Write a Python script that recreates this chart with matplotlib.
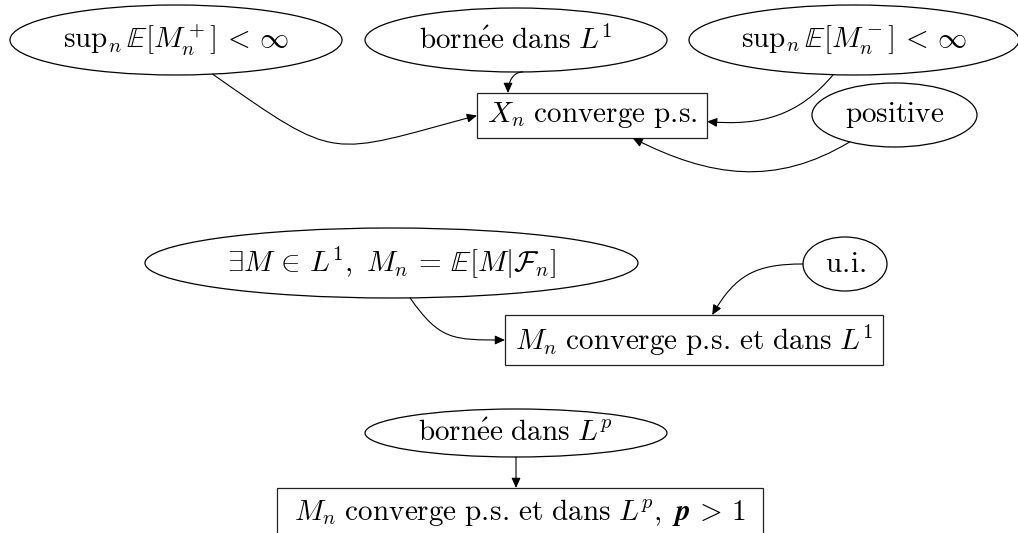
import numpy as np
import matplotlib.pyplot as plt
from matplotlib.patches import Ellipse, Rectangle, FancyArrowPatch
from matplotlib.path import Path

plt.rcParams['mathtext.fontset'] = 'cm'

# noeuds du diagramme
labels = [
    r'$\mathrm{sup}_n\,\mathbb{E}[M_n^+]\, <\, \infty$',
    r'$\mathrm{born\acute{e}e\ dans}\ L^1$',
    r'$\mathrm{sup}_n\,\mathbb{E}[M_n^-]\, <\, \infty$',
    r'$X_n\ \mathrm{converge\ p.\!s.}$',
    r'$\mathrm{positive}$',
    r'$\exists M \,\in\, L^1,\ M_n \,=\, \mathbb{E}[M|\mathcal{F}_n]$',
    r'$\mathrm{u.\!i.}$',
    r'$M_n\ \mathrm{converge\ p.\!s.\!\ et\ dans}\ L^1$',
    r'$\mathrm{born\acute{e}e\ dans}\ L^p$',
    r'$M_n\ \mathrm{converge\ p.\!s.\!\ et\ dans}\ L^p,\ \boldsymbol{p}\,>\,\mathbf{1}$',
]
kinds = ['ellipse', 'ellipse', 'ellipse', 'rect', 'ellipse',
         'ellipse', 'ellipse', 'rect', 'ellipse', 'rect']

# mise en page (pixels, y vers le bas)
cx = [176, 516, 854, 592, 894.5, 391.5, 845, 694, 516, 520]
cy = [40, 40, 40, 115.5, 115, 263, 264, 340, 433, 513]
w = [332, 302, 330, 230, 165, 493, 84, 378, 302, 486]
h = [70, 64, 70, 45, 64, 70, 54, 50, 48, 50]

# aretes : source, cible, ancre source, ancre cible, sortie, entree, tension
edges = [
    (0, 3, -43, 180, -35, 195, 0.58),
    (1, 3, -78, 165, 180, 90, 0.4),
    (2, 3, -121, -3, -130, -5, 0.4),
    (4, 3, -149, -29, 211, -27, 0.4),
    (5, 7, -62, 180, -55, 180, 0.5),
    (6, 7, 180, 54, 180, 60, 0.45),
    (8, 9, -90, 99, -90, 90, 0.3),
]


def direction(ang):
    t = np.radians(ang)
    return np.array([np.cos(t), -np.sin(t)])


def anchor(i, ang):
    t = np.radians(ang)
    c, s = np.cos(t), np.sin(t)
    a, b = w[i] / 2, h[i] / 2
    if kinds[i] == 'ellipse':
        r = 1 / np.hypot(c / a, s / b)
    else:
        rx = a / abs(c) if abs(c) > 1e-9 else np.inf
        ry = b / abs(s) if abs(s) > 1e-9 else np.inf
        r = min(rx, ry)
    return np.array([cx[i] + r * c, cy[i] - r * s])


fig = plt.figure(figsize=(10.18, 5.33), dpi=100)
ax = fig.add_axes([0, 0, 1, 1])
ax.set_xlim(0, 1018)
ax.set_ylim(533, 0)
ax.axis('off')

for i in range(len(labels)):
    if kinds[i] == 'ellipse':
        p = Ellipse((cx[i], cy[i]), w[i], h[i], fill=False, lw=0.9, ec='black')
    else:
        p = Rectangle((cx[i] - w[i] / 2, cy[i] - h[i] / 2), w[i], h[i],
                      fill=False, lw=0.9, ec='#222222')
    ax.add_patch(p)
    ax.text(cx[i], cy[i], labels[i], ha='center', va='center', fontsize=21)

for s, t, aa, ab, out, inn, k in edges:
    p0 = anchor(s, aa)
    p3 = anchor(t, ab)
    d = np.hypot(*(p3 - p0))
    c1 = p0 + k * d * direction(out)
    c2 = p3 + k * d * direction(inn)
    path = Path([p0, c1, c2, p3], [Path.MOVETO, Path.CURVE4, Path.CURVE4, Path.CURVE4])
    arr = FancyArrowPatch(path=path, arrowstyle='-|>,head_length=1.0,head_width=0.45',
                          mutation_scale=6, lw=0.8, color='black',
                          shrinkA=0, shrinkB=0)
    ax.add_patch(arr)

fig.savefig('out.png', dpi=100)
